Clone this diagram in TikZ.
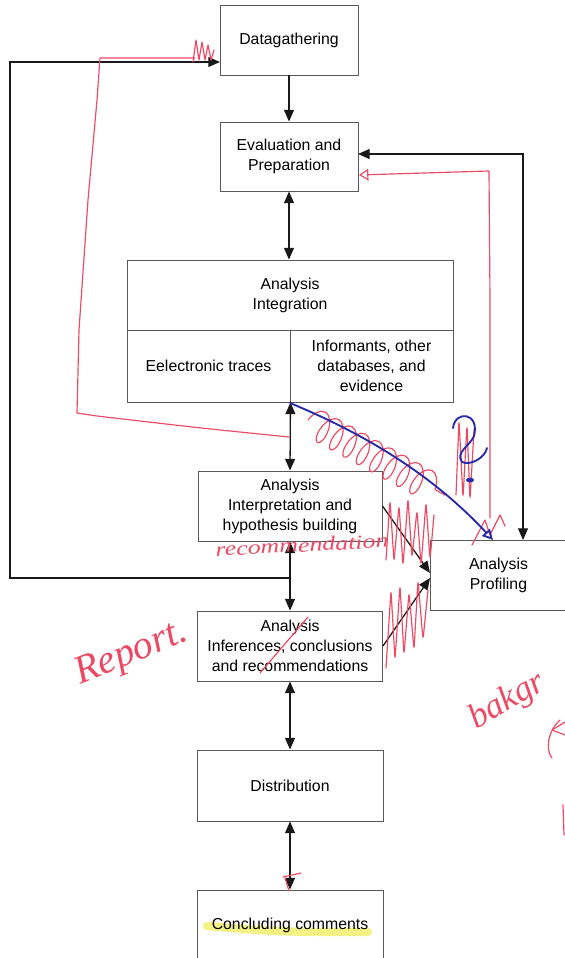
\documentclass[tikz,border=0pt]{standalone}
\usepackage{fontspec}
\setmainfont{Liberation Sans}
\newfontfamily\handfont{Liberation Serif}
\usepackage{graphicx}
\usetikzlibrary{arrows.meta,decorations.pathmorphing}

\definecolor{pen}{RGB}{236,74,100}
\definecolor{bluepen}{RGB}{40,42,168}
\definecolor{marker}{RGB}{240,238,90}

\begin{document}
\begin{tikzpicture}[x=0.03cm, y=-0.03cm,
	box/.style={draw=black!65, line width=0.8pt, align=center, inner sep=0pt,
		font=\fontsize{13.5}{17}\selectfont},
	link/.style={draw=black!90, line width=1.1pt},
	arr/.style={link, -{Triangle[length=10pt,width=8.5pt]}},
	dbl/.style={link, {Triangle[length=10pt,width=8.5pt]}-{Triangle[length=10pt,width=8.5pt]}},
	ink/.style={draw=pen, line width=1pt, line join=round, line cap=round},
	scribble/.style={ink, rounded corners=4pt},
	blueink/.style={draw=bluepen, line width=1.6pt, line join=round, line cap=round},
	hand/.style={text=pen, inner sep=0pt, font=\handfont\itshape}]
	\useasboundingbox (0,0) rectangle (565,958);

	\draw[marker, line width=7pt, opacity=0.75, line cap=round] (207,926) .. controls (280,932) .. (368,932);

	\node[box, minimum width=4.14cm, minimum height=2.1cm] (datag) at (289,40) {Datagathering};
	\node[box, minimum width=4.14cm, minimum height=2.07cm] (evalprep) at (289,156.5) {Evaluation and\\Preparation};
	\node[box, minimum width=9.78cm, minimum height=2.1cm] (integ) at (290,295) {Analysis\\Integration};
	\node[box, minimum width=4.89cm, minimum height=2.16cm] (traces) at (208.5,366) {Eelectronic traces};
	\node[box, minimum width=4.89cm, minimum height=2.16cm] (informants) at (371.5,366) {Informants, other\\databases, and\\evidence};
	\node[box, minimum width=5.52cm, minimum height=2.1cm] (interp) at (290,506) {Analysis\\Interpretation and\\hypothesis building};
	\node[box, minimum width=4.11cm, minimum height=2.1cm] (profiling) at (498.5,575) {Analysis\\Profiling};
	\node[box, minimum width=5.55cm, minimum height=2.1cm] (infer) at (290,646) {Analysis\\Inferences, conclusions\\and recommendations};
	\node[box, minimum width=5.58cm, minimum height=2.13cm] (distrib) at (290,785.5) {Distribution};
	\node[box, minimum width=5.58cm, minimum height=2.1cm] (concl) at (290,925) {Concluding comments};

	\coordinate (fb) at (290,578);
	\coordinate (fbcorner) at (10,578);
	\coordinate (dgin) at (220,62);
	\coordinate (epin) at (358,154);
	\coordinate (pftop) at (523,540);
	\coordinate (pfa) at (430,573);
	\coordinate (pfb) at (430,578);

	\draw[arr] (datag.south) -- (datag.south |- evalprep.north);
	\draw[dbl] (evalprep.south) -- (evalprep.south |- integ.north);
	\draw[dbl] (traces.south east) -- (interp.north);
	\draw[dbl] (interp) -- (infer);
	\draw[dbl] (infer) -- (distrib);
	\draw[dbl] (distrib) -- (concl);
	\draw[arr] (fb) -- (fbcorner) |- (dgin);
	\draw[dbl] (epin) -| (pftop);
	\draw[arr] (interp.east) -- (pfa);
	\draw[arr] (infer.east) -- (pfb);

	% pen marks
	\draw[ink] (289,437) .. controls (200,428) .. (97,416) -- (77,413) -- (79,330) -- (88,200) -- (97,100) -- (100,58) -- (195,58);
	\draw[ink] (193,62) -- (196,40) -- (199,60) -- (202,42) -- (205,60) -- (208,45) -- (211,60) -- (214,50);
	\draw[ink, -{Triangle[open,length=8pt,width=10pt]}] (490,518) -- (490,300) -- (489,171) -- (359,175);
	\draw[ink] (472,545) -- (485,520) -- (490,535) -- (500,515) -- (505,526);
	\draw[ink, decorate, decoration={coil, amplitude=13pt, segment length=13pt}] (308,420) -- (445,495);
	\draw[scribble] (386,560) -- (390,500) -- (394,562) -- (399,505) -- (403,566) -- (408,498)
		-- (412,558) -- (417,510) -- (421,566) -- (426,502) -- (430,560) -- (434,515);
	\draw[scribble] (386,668) -- (391,590) -- (395,660) -- (400,585) -- (404,655) -- (409,592)
		-- (414,650) -- (418,580) -- (423,640) -- (428,590);
	\draw[scribble] (456,495) -- (459,420) -- (463,498) -- (467,425) -- (470,500) -- (474,430);
	\draw[ink] (260,673) -- (308,617);
	\draw[ink] (283,877) -- (301,873);
	\draw[ink] (285,878) -- (289,891);
	\draw[ink] (560,720) .. controls (548,730) and (545,750) .. (552,758);
	\draw[ink] (565,722) -- (552,730) -- (565,735);
	\draw[ink] (563,805) -- (564,835);

	\node[hand, rotate=3] (recnote) at (302,545) {\fontsize{17}{17}\selectfont\scalebox{1.3}[1]{recommendation}};
	\node[hand, rotate=22] (reportnote) at (132,654) {\fontsize{34}{34}\selectfont Report.};
	\node[hand, rotate=30, anchor=west] (bgnote) at (472,722) {\fontsize{30}{30}\selectfont bakgr};

	\draw[blueink, -{Triangle[open,length=9pt,width=9pt]}] (290,403) .. controls (360,432) and (430,472) .. (493,540);
	\draw[blueink] (453,428) .. controls (455,410) and (480,412) .. (474,436) .. controls (470,446) and (455,452) .. (462,462) .. controls (470,466) and (485,458) .. (487,448);
	\fill[bluepen] (470,480) ellipse [x radius=3.5pt, y radius=2pt];
\end{tikzpicture}
\end{document}
